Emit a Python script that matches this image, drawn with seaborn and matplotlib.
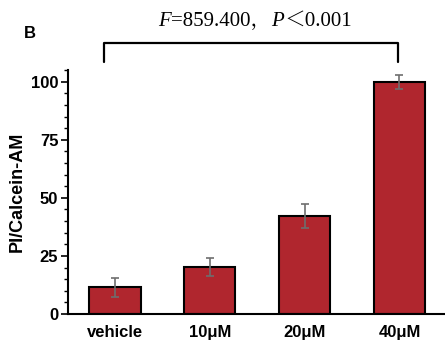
import matplotlib
matplotlib.use('Agg')
import matplotlib.pyplot as plt
import seaborn as sns
import pandas as pd
from matplotlib.ticker import MultipleLocator

# values
groups = ['vehicle', '10μM', '20μM', '40μM']
ratio = [11.5, 20.3, 42.0, 100.0]
sd = [4.0, 4.0, 5.2, 3.0]
# statistic text: (piece, italic?)
stat_parts = [('F', True), ('=859.400，', False), ('P', True), ('＜0.001', False)]

sns.set_style('ticks')
plt.rcParams['font.family'] = ['Liberation Sans', 'DejaVu Sans']
for k in ['text.color', 'axes.labelcolor', 'xtick.color', 'ytick.color', 'axes.edgecolor']:
    plt.rcParams[k] = 'black'

df = pd.DataFrame({'group': groups, 'ratio': ratio, 'sd': sd})

fig = plt.figure(figsize=(4.45, 3.42), dpi=100)
ax = fig.add_axes([0.153, 0.082, 0.847, 0.713])

sns.barplot(data=df, x='group', y='ratio', ax=ax, color='#B0262E', saturation=1,
            width=0.54, edgecolor='black', linewidth=1.5, errorbar=None)
ax.errorbar(range(len(groups)), df['ratio'], yerr=df['sd'], fmt='none',
            ecolor='#6E6E6E', elinewidth=1.2, capsize=3, capthick=1.2)

ax.set_xlim(-0.495, 3.48)
ax.set_ylim(0, 105)
ax.yaxis.set_major_locator(MultipleLocator(25))
ax.yaxis.set_minor_locator(MultipleLocator(5))
ax.tick_params(axis='y', which='major', length=5, width=1.2, labelsize=12, pad=2)
ax.tick_params(axis='y', which='minor', length=3, width=1.0)
ax.tick_params(axis='x', length=0, labelsize=12, pad=8)
for lab in ax.get_xticklabels() + ax.get_yticklabels():
    lab.set_fontweight('bold')
ax.set_xlabel('')
ax.set_ylabel('PI/Calcein-AM', fontsize=13, fontweight='bold', labelpad=4)
sns.despine(ax=ax)
for s in ['left', 'bottom']:
    ax.spines[s].set_linewidth(1.5)

# significance bracket
ax.plot([-0.12, -0.12, 2.98, 2.98], [108.6, 116.8, 116.8, 108.6], color='black',
        lw=1.6, clip_on=False)

# statistic line built from pieces so F and P can be italic
renderer = fig.canvas.get_renderer()
pieces = []
for txt, it in stat_parts:
    t = fig.text(0, 0.938, txt, ha='left', va='center', fontsize=15,
                 style='italic' if it else 'normal',
                 family=['Liberation Serif', 'Noto Serif CJK SC', 'Noto Sans CJK SC'])
    pieces.append(t)
widths = [t.get_window_extent(renderer).width for t in pieces]
x = 0.573 * fig.bbox.width - sum(widths) / 2
for t, w in zip(pieces, widths):
    t.set_x(x / fig.bbox.width)
    x += w

fig.text(0.067, 0.903, 'B', ha='center', va='center', fontsize=12, fontweight='bold')

fig.savefig('out.png', dpi=100)
